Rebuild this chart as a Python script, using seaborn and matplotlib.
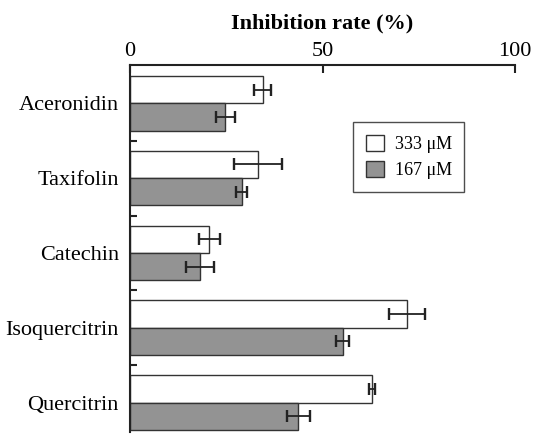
import numpy as np
import pandas as pd
import matplotlib
matplotlib.use('Agg')
import matplotlib.pyplot as plt
import seaborn as sns

# data
compounds = ['Aceronidin', 'Taxifolin', 'Catechin', 'Isoquercitrin', 'Quercitrin']
doses = ['333 μM', '167 μM']
rate_333 = [34.5, 33.2, 20.6, 71.9, 62.9]
err_333 = [2.2, 6.3, 2.8, 4.7, 0.8]
rate_167 = [24.7, 29.0, 18.2, 55.2, 43.7]
err_167 = [2.5, 1.5, 3.7, 1.7, 2.9]

df = pd.DataFrame({
    'compound': compounds * 2,
    'dose': [doses[0]] * 5 + [doses[1]] * 5,
    'rate': rate_333 + rate_167,
    'err': err_333 + err_167,
})

sns.set_theme(style='white')
plt.rcParams['font.family'] = ['Liberation Serif', 'DejaVu Serif']
plt.rcParams['text.color'] = 'black'
plt.rcParams['axes.labelcolor'] = 'black'

fig = plt.figure(figsize=(5.35, 4.34), dpi=100)
ax = fig.add_axes([0.243, 0.005, 0.72, 0.845])

sns.barplot(data=df, x='rate', y='compound', hue='dose', orient='h',
            palette=['white', '#939393'], edgecolor='#333333', linewidth=1.0,
            width=0.73, errorbar=None, ax=ax)

# error bars at the bar centres
errs = [err_333, err_167]
for cont, e in zip(ax.containers, errs):
    ys = [p.get_y() + p.get_height() / 2 for p in cont.patches]
    xs = [p.get_width() for p in cont.patches]
    ax.errorbar(xs, ys, xerr=e, fmt='none', ecolor='#222222',
                elinewidth=1.3, capsize=4.5, capthick=1.7)

ax.set_xlim(0, 100)
ax.set_ylim(4.39, -0.51)
ax.set_xticks([0, 50, 100])
ax.xaxis.tick_top()
ax.xaxis.set_label_position('top')
ax.set_xlabel('Inhibition rate (%)', fontsize=16, fontweight='bold', labelpad=10)
ax.set_ylabel('')
ax.tick_params(axis='x', direction='in', length=6, width=1.5, labelsize=16, pad=3,
               top=True, bottom=False, color='#222222', labelcolor='black')
ax.tick_params(axis='y', which='major', length=0, labelsize=16, pad=8, labelcolor='black')
ax.set_yticks([0.5, 1.5, 2.5, 3.5], minor=True)
ax.tick_params(axis='y', which='minor', direction='in', length=5, width=1.5,
               left=True, color='#222222')

for s in ['right', 'bottom']:
    ax.spines[s].set_visible(False)
for s in ['top', 'left']:
    ax.spines[s].set_color('#222222')
    ax.spines[s].set_linewidth(1.5)

leg = ax.legend(loc='upper left', bbox_to_anchor=(0.579, 0.845), fontsize=13,
                frameon=True, fancybox=False, handlelength=1.0, handleheight=1.0,
                borderpad=0.7, labelspacing=0.45, handletextpad=0.6,
                borderaxespad=0, title=None)
leg.get_frame().set_edgecolor('#222222')
leg.get_frame().set_linewidth(1.0)

fig.savefig('out.png', dpi=100)
